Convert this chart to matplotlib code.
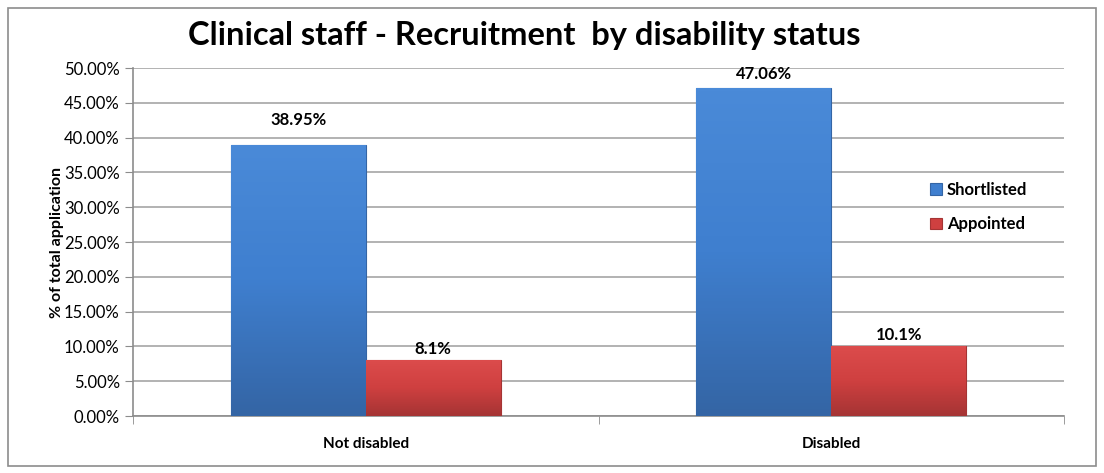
import numpy as np
import matplotlib.pyplot as plt
import matplotlib.colors as mcolors
from matplotlib.patches import Rectangle

plt.rcParams['font.family'] = ['Lato', 'DejaVu Sans']

# data
categories = ['Not disabled', 'Disabled']
series = ['Shortlisted', 'Appointed']
shortlisted = [38.95, 47.06]
appointed = [8.1, 10.1]
labels_short = ['38.95%', '47.06%']
labels_app = ['8.1%', '10.1%']

colors = {'Shortlisted': '#3f7fcf', 'Appointed': '#cf4040'}
light = {'Shortlisted': '#4a8ad8', 'Appointed': '#dc4c4c'}
dark = {'Shortlisted': '#3465a5', 'Appointed': '#a53434'}

fig = plt.figure(figsize=(11.04, 4.73), dpi=100)
ax = fig.add_axes([0.1205, 0.1205, 0.8433, 0.7357])

# outer chart border
fig.patches.append(Rectangle((8 / 1104, 7 / 473), 1088 / 1104, 458 / 473,
                             transform=fig.transFigure, fill=False,
                             edgecolor='#8c8c8c', linewidth=1.2))

x = np.arange(len(categories))
w = 0.29


def gradient_bars(xs, vals, name):
    bars = ax.bar(xs, vals, w, color=colors[name], edgecolor=dark[name],
                  linewidth=0.8, label=name, zorder=3)
    cmap = mcolors.LinearSegmentedColormap.from_list(
        name, [dark[name], colors[name], light[name]])
    for b in bars:
        x0, y0 = b.get_x(), b.get_y()
        grad = np.linspace(0, 1, 100).reshape(-1, 1)
        im = ax.imshow(grad, cmap=cmap, aspect='auto', origin='lower',
                       extent=[x0, x0 + b.get_width(), y0, y0 + b.get_height()],
                       zorder=3.5)
        im.set_clip_path(b)
    return bars


b1 = gradient_bars(x - w / 2, shortlisted, 'Shortlisted')
b2 = gradient_bars(x + w / 2, appointed, 'Appointed')

offsets_s = [25, 14]
offsets_a = [11, 11]
for b, lab, off in zip(b1, labels_short, offsets_s):
    ax.annotate(lab, (b.get_x() + b.get_width() / 2, b.get_height()),
                xytext=(0, off), textcoords='offset pixels', ha='center',
                va='center', fontsize=12, fontweight='bold')
for b, lab, off in zip(b2, labels_app, offsets_a):
    ax.annotate(lab, (b.get_x() + b.get_width() / 2, b.get_height()),
                xytext=(0, off), textcoords='offset pixels', ha='center',
                va='center', fontsize=12, fontweight='bold')

ax.set_xlim(-0.5, 1.5)
ax.set_ylim(0, 50)
ax.set_yticks(np.arange(0, 50.1, 5))
ax.set_yticklabels(['%.2f%%' % v for v in np.arange(0, 50.1, 5)], fontsize=12)
ax.set_xticks(x)
ax.set_xticklabels(categories, fontsize=11, fontweight='bold')
ax.set_xticks([-0.5, 0.5, 1.5], minor=True)
ax.tick_params(axis='x', which='major', length=0, pad=15)
ax.tick_params(axis='x', which='minor', length=6, color='#8c8c8c')
ax.tick_params(axis='y', length=6, color='#8c8c8c')
ax.grid(axis='y', color='#a6a6a6', linewidth=1.2, zorder=0)
ax.set_axisbelow(True)
for s in ['top', 'right']:
    ax.spines[s].set_visible(False)
for s in ['left', 'bottom']:
    ax.spines[s].set_color('#8c8c8c')
    ax.spines[s].set_linewidth(1.2)

ax.set_ylabel('% of total application', fontsize=11.5, fontweight='bold', labelpad=0)
fig.text(0.475, 0.926, 'Clinical staff - Recruitment  by disability status',
         ha='center', va='center', fontsize=23.5, fontweight='bold')

ax.legend(loc='center left', bbox_to_anchor=(0.84, 0.6), frameon=False,
          prop={'weight': 'bold', 'size': 12},
          handlelength=0.7, handleheight=0.7, handletextpad=0.3, labelspacing=1.1)

fig.savefig('out.png', dpi=100)
